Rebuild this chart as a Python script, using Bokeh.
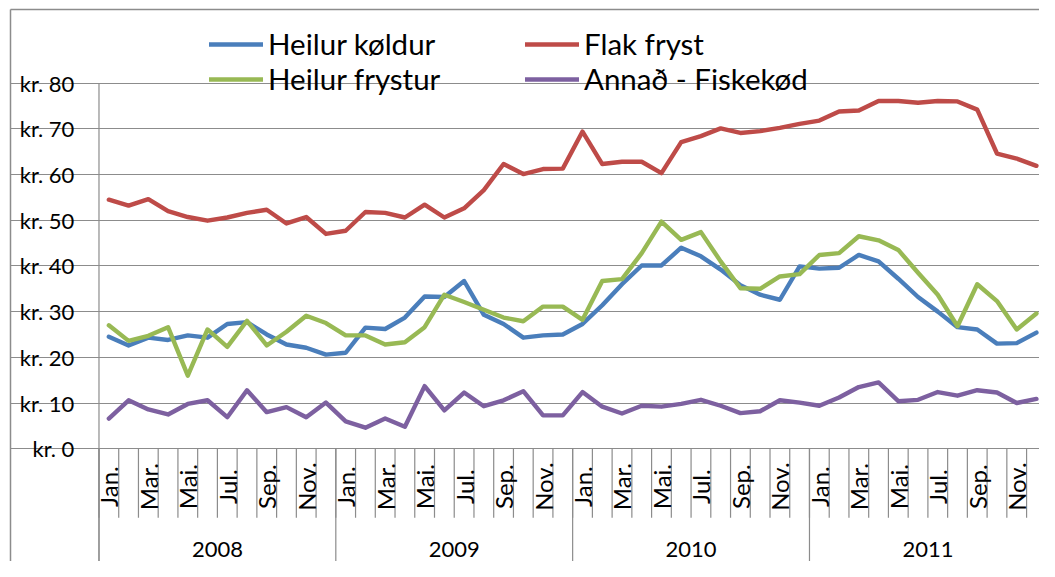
import numpy as np
from bokeh.plotting import figure
from bokeh.models import FixedTicker, Legend, LegendItem, Range1d
from bokeh.core.properties import value
from bokeh.embed import file_html
from bokeh.resources import INLINE

# ---------------- data ----------------
years = ["2008", "2009", "2010", "2011"]
month_labels = ["Jan.", "", "Mar.", "", "Mai.", "", "Jul.", "", "Sep.", "", "Nov.", ""]

heilur_koldur = [24.5, 22.6, 24.3, 23.8, 24.8, 24.3, 27.3, 27.7, 25.0, 22.8, 22.1, 20.6,
                 21.0, 26.5, 26.2, 28.7, 33.3, 33.2, 36.7, 29.3, 27.3, 24.3, 24.8, 25.0,
                 27.3, 31.4, 36.0, 40.1, 40.1, 44.0, 42.1, 39.2, 35.8, 33.7, 32.6, 39.9,
                 39.4, 39.6, 42.4, 41.0, 37.2, 33.2, 30.0, 26.6, 26.1, 23.0, 23.1, 25.4]
flak_fryst = [54.5, 53.2, 54.6, 52.0, 50.7, 49.9, 50.6, 51.6, 52.3, 49.3, 50.7, 47.0,
              47.7, 51.8, 51.6, 50.6, 53.4, 50.6, 52.6, 56.6, 62.3, 60.1, 61.2, 61.3,
              69.4, 62.3, 62.8, 62.8, 60.3, 67.1, 68.4, 70.1, 69.1, 69.5, 70.2, 71.1,
              71.8, 73.8, 74.0, 76.1, 76.1, 75.7, 76.1, 76.0, 74.2, 64.6, 63.5, 61.9]
heilur_frystur = [27.0, 23.6, 24.7, 26.6, 16.0, 26.1, 22.3, 28.0, 22.6, 25.6, 29.1, 27.5,
                  24.8, 24.8, 22.8, 23.3, 26.6, 33.7, 32.1, 30.4, 28.7, 27.9, 31.1, 31.1,
                  28.2, 36.7, 37.1, 42.8, 49.7, 45.7, 47.4, 41.0, 35.1, 35.0, 37.7, 38.2,
                  42.4, 42.8, 46.5, 45.6, 43.5, 38.5, 33.7, 26.8, 36.0, 32.3, 26.1, 29.6]
annad_fiskekod = [6.6, 10.6, 8.6, 7.5, 9.8, 10.6, 6.9, 12.8, 8.0, 9.1, 6.9, 10.1,
                  6.0, 4.6, 6.6, 4.8, 13.7, 8.4, 12.3, 9.3, 10.6, 12.6, 7.3, 7.3,
                  12.4, 9.2, 7.7, 9.4, 9.2, 9.8, 10.7, 9.4, 7.8, 8.2, 10.6, 10.1,
                  9.4, 11.2, 13.5, 14.5, 10.4, 10.7, 12.4, 11.6, 12.8, 12.3, 10.0, 10.9]
y_ticks = [0, 10, 20, 30, 40, 50, 60, 70, 80]
y_tick_labels = ["kr. %d" % t for t in y_ticks]

series = [("Heilur køldur", heilur_koldur, "#4A7EBB"),
          ("Flak fryst", flak_fryst, "#BE4B48"),
          ("Heilur frystur", heilur_frystur, "#98B954"),
          ("Annað - Fiskekød", annad_fiskekod, "#7D60A0")]

# ---------------- layout ----------------
n = len(heilur_koldur)
W, H = 1039, 561
SX, SY = W / 1055.0, H / 577.0
AX = 100 * SX           # value axis x (px)
AY = 461 * SY           # zero line y (px)
MW = 20.04 * SX         # px per month
PXY = 4.7 * SY          # px per kr
left_b, top_b = 10, 9
frame_w, frame_h = W - left_b, H - top_b
x0 = (left_b - AX) / MW
x1 = x0 + frame_w / MW
y1 = (AY - top_b) / PXY
y0 = y1 - frame_h / PXY

GRAY = "#8c8c8c"
FONT = "Lato"

p = figure(width=W, height=H, output_backend="svg", toolbar_location=None,
           x_range=Range1d(x0, x1), y_range=Range1d(y0, y1),
           x_axis_location="above", y_axis_location="left",
           min_border_left=left_b, min_border_top=top_b, min_border_right=0, min_border_bottom=0)
p.outline_line_color = None
p.background_fill_color = "white"
p.border_fill_color = "white"

for ax in (p.xaxis, p.yaxis):
    ax.ticker = FixedTicker(ticks=[])
    ax.major_tick_out = 0
    ax.major_tick_in = 0
    ax.minor_tick_out = 0
    ax.minor_tick_in = 0
    ax.major_label_standoff = 0
    ax.axis_line_color = GRAY
    ax.axis_line_width = 1.5

p.xgrid.visible = False
p.ygrid.ticker = FixedTicker(ticks=y_ticks)
p.ygrid.bounds = (-8 * SX / MW, x1)
p.ygrid.grid_line_color = GRAY
p.ygrid.grid_line_width = 1.2

# value axis line
p.segment(x0=[0], y0=[y0], x1=[0], y1=[max(y_ticks)], line_color=GRAY, line_width=1.2)

# month separators
mb = np.arange(n + 1)
p.segment(x0=mb, y0=np.zeros(n + 1), x1=mb, y1=np.full(n + 1, -71 * SY / PXY),
          line_color=GRAY, line_width=1.2)
# year separators
yb = np.arange(0, n + 1, 12)
p.segment(x0=yb, y0=np.zeros(len(yb)), x1=yb, y1=np.full(len(yb), y0),
          line_color=GRAY, line_width=1.2)

# y tick labels
p.text(x=np.full(len(y_ticks), -25 * SX / MW), y=y_ticks, text=y_tick_labels,
       text_font=value(FONT), text_font_size="22px", text_color="black",
       text_align="right", text_baseline="middle")

# month labels
mx, mt = [], []
for yi in range(len(years)):
    for mi, lab in enumerate(month_labels):
        if lab:
            mx.append(yi * 12 + mi + 0.5)
            mt.append(lab)
p.text(x=mx, y=np.full(len(mx), -39 * SY / PXY), text=mt, angle=np.pi / 2,
       text_font=value(FONT), text_font_size="24px", text_color="black",
       text_align="center", text_baseline="middle")

# year labels
p.text(x=[i * 12 + 6 for i in range(len(years))], y=np.full(len(years), -104 * SY / PXY),
       text=years, text_font=value(FONT), text_font_size="22px", text_color="black",
       text_align="center", text_baseline="middle")

# series
xs = np.arange(n) + 0.5
rends = {}
for name, vals, col in series:
    r = p.line(xs, vals, line_color=col, line_width=4.4, line_join="round", line_cap="round")
    rends[name] = r


def mk_legend(names, loc):
    lg = Legend(items=[LegendItem(label=nm, renderers=[rends[nm]]) for nm in names],
                location=loc, orientation="vertical",
                label_text_font=FONT, label_text_font_size="29.5px", label_text_color="black",
                glyph_width=54, glyph_height=30, label_height=30, label_standoff=5,
                spacing=-2, padding=0, margin=0,
                background_fill_alpha=0, border_line_color=None)
    p.add_layout(lg)


mk_legend(["Heilur køldur", "Heilur frystur"], (199, 465))
mk_legend(["Flak fryst", "Annað - Fiskekød"], (515, 465))

open("out.html", "w").write(file_html(p, INLINE))
